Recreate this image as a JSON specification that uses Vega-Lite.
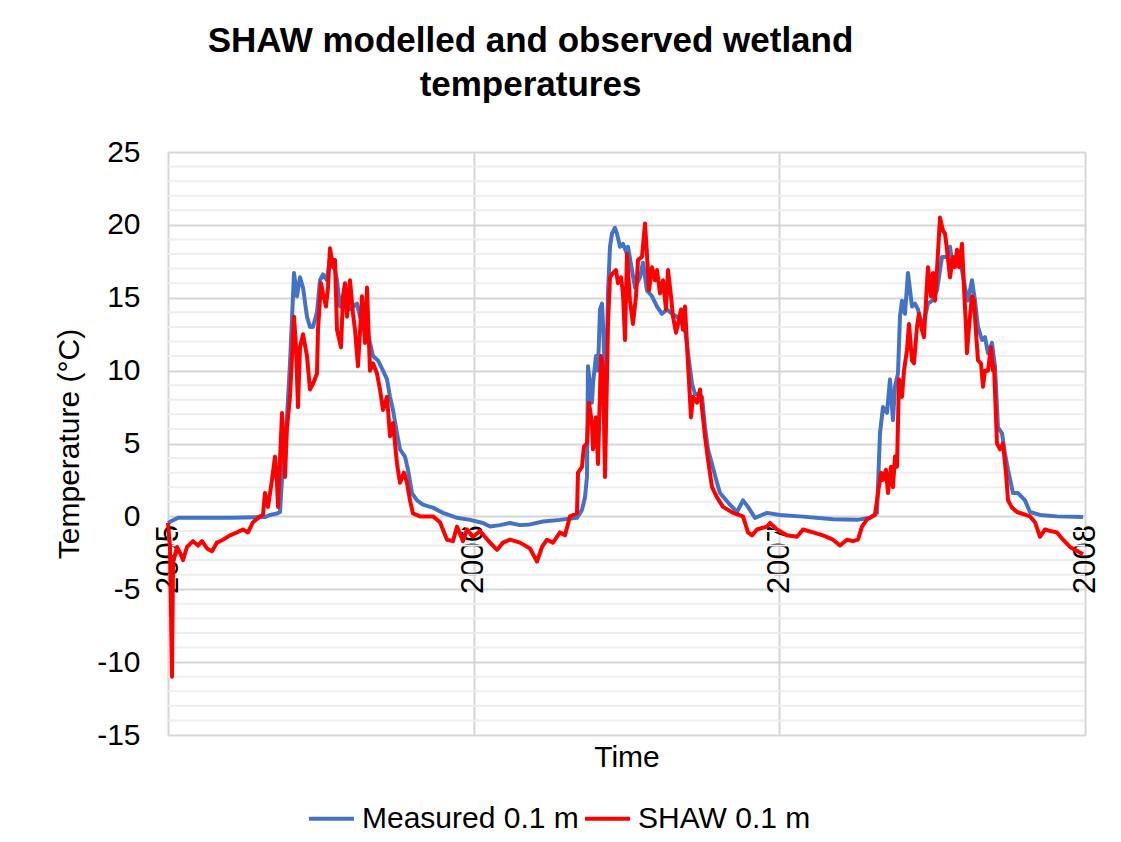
{
  "$schema": "https://vega.github.io/schema/vega-lite/v6.json",
  "width": 917,
  "height": 583,
  "autosize": {"type": "none"},
  "padding": {"left": 168, "top": 152, "right": 36, "bottom": 107},
  "background": "white",
  "config": {
    "font": "Liberation Sans",
    "view": {"stroke": null},
    "axis": {"labelFont": "Liberation Sans", "titleFont": "Liberation Sans", "labelColor": "#000000", "titleColor": "#000000", "titleFontWeight": "normal"}
  },
  "title": {
    "text": ["SHAW  modelled and observed wetland", "temperatures"],
    "font": "Liberation Sans",
    "fontSize": 35,
    "fontWeight": "bold",
    "color": "#000000",
    "anchor": "middle",
    "frame": "group",
    "dx": -96,
    "lineHeight": 44,
    "offset": 34
  },
  "encoding": {
    "y": {
      "field": "v",
      "type": "quantitative",
      "scale": {"domain": [-15, 25], "nice": false, "zero": false},
      "axis": {
        "values": [-15, -10, -5, 0, 5, 10, 15, 20, 25],
        "labelExpr": "datum.value + ''",
        "title": "Temperature (°C)",
        "titleFontSize": 30,
        "labelFontSize": 30,
        "domain": false,
        "ticks": false,
        "labelPadding": 28,
        "titlePadding": 12,
        "grid": true,
        "gridColor": "#d6d6d6",
        "gridWidth": 2
      }
    }
  },
  "layer": [
    {
      "data": {"values": [
        {"v": -14}, {"v": -13}, {"v": -12}, {"v": -11},
        {"v": -9}, {"v": -8}, {"v": -7}, {"v": -6},
        {"v": -4}, {"v": -3}, {"v": -2}, {"v": -1},
        {"v": 1}, {"v": 2}, {"v": 3}, {"v": 4},
        {"v": 6}, {"v": 7}, {"v": 8}, {"v": 9},
        {"v": 11}, {"v": 12}, {"v": 13}, {"v": 14},
        {"v": 16}, {"v": 17}, {"v": 18}, {"v": 19},
        {"v": 21}, {"v": 22}, {"v": 23}, {"v": 24}
      ]},
      "mark": {"type": "rule", "color": "#eeeeee", "strokeWidth": 2},
      "encoding": {}
    },
    {
      "data": {"values": [
        {"s": "Measured 0.1 m", "t": 2005.0000, "v": -0.45},
        {"s": "Measured 0.1 m", "t": 2005.0131, "v": -0.3},
        {"s": "Measured 0.1 m", "t": 2005.0327, "v": -0.1},
        {"s": "Measured 0.1 m", "t": 2005.1047, "v": -0.1},
        {"s": "Measured 0.1 m", "t": 2005.2028, "v": -0.1},
        {"s": "Measured 0.1 m", "t": 2005.3173, "v": -0.05},
        {"s": "Measured 0.1 m", "t": 2005.3337, "v": 0.1},
        {"s": "Measured 0.1 m", "t": 2005.3566, "v": 0.2},
        {"s": "Measured 0.1 m", "t": 2005.3664, "v": 0.3},
        {"s": "Measured 0.1 m", "t": 2005.3762, "v": 3.6},
        {"s": "Measured 0.1 m", "t": 2005.3893, "v": 6.8},
        {"s": "Measured 0.1 m", "t": 2005.3991, "v": 10.5},
        {"s": "Measured 0.1 m", "t": 2005.4089, "v": 15.1},
        {"s": "Measured 0.1 m", "t": 2005.4122, "v": 16.7},
        {"s": "Measured 0.1 m", "t": 2005.4220, "v": 15.1},
        {"s": "Measured 0.1 m", "t": 2005.4318, "v": 16.4},
        {"s": "Measured 0.1 m", "t": 2005.4417, "v": 15.7},
        {"s": "Measured 0.1 m", "t": 2005.4547, "v": 13.7},
        {"s": "Measured 0.1 m", "t": 2005.4646, "v": 13.0},
        {"s": "Measured 0.1 m", "t": 2005.4744, "v": 13.0},
        {"s": "Measured 0.1 m", "t": 2005.4875, "v": 14.0},
        {"s": "Measured 0.1 m", "t": 2005.4973, "v": 16.2},
        {"s": "Measured 0.1 m", "t": 2005.5071, "v": 16.6},
        {"s": "Measured 0.1 m", "t": 2005.5202, "v": 16.2},
        {"s": "Measured 0.1 m", "t": 2005.5300, "v": 17.8},
        {"s": "Measured 0.1 m", "t": 2005.5398, "v": 17.6},
        {"s": "Measured 0.1 m", "t": 2005.5529, "v": 16.2},
        {"s": "Measured 0.1 m", "t": 2005.5627, "v": 14.4},
        {"s": "Measured 0.1 m", "t": 2005.5856, "v": 14.4},
        {"s": "Measured 0.1 m", "t": 2005.5954, "v": 14.2},
        {"s": "Measured 0.1 m", "t": 2005.6183, "v": 14.6},
        {"s": "Measured 0.1 m", "t": 2005.6281, "v": 13.7},
        {"s": "Measured 0.1 m", "t": 2005.6510, "v": 12.8},
        {"s": "Measured 0.1 m", "t": 2005.6608, "v": 11.9},
        {"s": "Measured 0.1 m", "t": 2005.6707, "v": 11.0},
        {"s": "Measured 0.1 m", "t": 2005.6870, "v": 10.7},
        {"s": "Measured 0.1 m", "t": 2005.7034, "v": 10.0},
        {"s": "Measured 0.1 m", "t": 2005.7165, "v": 9.4},
        {"s": "Measured 0.1 m", "t": 2005.7263, "v": 8.2},
        {"s": "Measured 0.1 m", "t": 2005.7361, "v": 7.3},
        {"s": "Measured 0.1 m", "t": 2005.7492, "v": 5.7},
        {"s": "Measured 0.1 m", "t": 2005.7590, "v": 4.6},
        {"s": "Measured 0.1 m", "t": 2005.7753, "v": 4.1},
        {"s": "Measured 0.1 m", "t": 2005.7851, "v": 3.2},
        {"s": "Measured 0.1 m", "t": 2005.7982, "v": 1.6},
        {"s": "Measured 0.1 m", "t": 2005.8146, "v": 1.1},
        {"s": "Measured 0.1 m", "t": 2005.8342, "v": 0.8},
        {"s": "Measured 0.1 m", "t": 2005.8571, "v": 0.65},
        {"s": "Measured 0.1 m", "t": 2005.8670, "v": 0.6},
        {"s": "Measured 0.1 m", "t": 2005.8997, "v": 0.24},
        {"s": "Measured 0.1 m", "t": 2005.9455, "v": -0.1},
        {"s": "Measured 0.1 m", "t": 2005.9880, "v": -0.24},
        {"s": "Measured 0.1 m", "t": 2006.0305, "v": -0.45},
        {"s": "Measured 0.1 m", "t": 2006.0534, "v": -0.7},
        {"s": "Measured 0.1 m", "t": 2006.0861, "v": -0.6},
        {"s": "Measured 0.1 m", "t": 2006.1189, "v": -0.45},
        {"s": "Measured 0.1 m", "t": 2006.1516, "v": -0.6},
        {"s": "Measured 0.1 m", "t": 2006.1843, "v": -0.55},
        {"s": "Measured 0.1 m", "t": 2006.2268, "v": -0.35},
        {"s": "Measured 0.1 m", "t": 2006.2824, "v": -0.24},
        {"s": "Measured 0.1 m", "t": 2006.3380, "v": -0.1},
        {"s": "Measured 0.1 m", "t": 2006.3544, "v": 0.45},
        {"s": "Measured 0.1 m", "t": 2006.3642, "v": 1.3},
        {"s": "Measured 0.1 m", "t": 2006.3707, "v": 2.7},
        {"s": "Measured 0.1 m", "t": 2006.3740, "v": 10.3},
        {"s": "Measured 0.1 m", "t": 2006.3805, "v": 9.1},
        {"s": "Measured 0.1 m", "t": 2006.3871, "v": 7.8},
        {"s": "Measured 0.1 m", "t": 2006.3904, "v": 9.1},
        {"s": "Measured 0.1 m", "t": 2006.4002, "v": 11.0},
        {"s": "Measured 0.1 m", "t": 2006.4067, "v": 10.0},
        {"s": "Measured 0.1 m", "t": 2006.4133, "v": 14.2},
        {"s": "Measured 0.1 m", "t": 2006.4198, "v": 14.6},
        {"s": "Measured 0.1 m", "t": 2006.4231, "v": 13.2},
        {"s": "Measured 0.1 m", "t": 2006.4296, "v": 9.6},
        {"s": "Measured 0.1 m", "t": 2006.4362, "v": 11.9},
        {"s": "Measured 0.1 m", "t": 2006.4395, "v": 15.3},
        {"s": "Measured 0.1 m", "t": 2006.4460, "v": 18.5},
        {"s": "Measured 0.1 m", "t": 2006.4525, "v": 19.4},
        {"s": "Measured 0.1 m", "t": 2006.4624, "v": 19.8},
        {"s": "Measured 0.1 m", "t": 2006.4689, "v": 19.4},
        {"s": "Measured 0.1 m", "t": 2006.4787, "v": 18.5},
        {"s": "Measured 0.1 m", "t": 2006.4885, "v": 18.7},
        {"s": "Measured 0.1 m", "t": 2006.5016, "v": 18.0},
        {"s": "Measured 0.1 m", "t": 2006.5049, "v": 18.5},
        {"s": "Measured 0.1 m", "t": 2006.5180, "v": 16.9},
        {"s": "Measured 0.1 m", "t": 2006.5278, "v": 15.7},
        {"s": "Measured 0.1 m", "t": 2006.5441, "v": 16.4},
        {"s": "Measured 0.1 m", "t": 2006.5540, "v": 17.4},
        {"s": "Measured 0.1 m", "t": 2006.5670, "v": 15.5},
        {"s": "Measured 0.1 m", "t": 2006.5834, "v": 15.1},
        {"s": "Measured 0.1 m", "t": 2006.5997, "v": 14.4},
        {"s": "Measured 0.1 m", "t": 2006.6161, "v": 13.9},
        {"s": "Measured 0.1 m", "t": 2006.6325, "v": 14.2},
        {"s": "Measured 0.1 m", "t": 2006.6488, "v": 13.9},
        {"s": "Measured 0.1 m", "t": 2006.6652, "v": 13.7},
        {"s": "Measured 0.1 m", "t": 2006.6750, "v": 13.5},
        {"s": "Measured 0.1 m", "t": 2006.6914, "v": 12.8},
        {"s": "Measured 0.1 m", "t": 2006.7012, "v": 11.2},
        {"s": "Measured 0.1 m", "t": 2006.7143, "v": 9.1},
        {"s": "Measured 0.1 m", "t": 2006.7241, "v": 8.4},
        {"s": "Measured 0.1 m", "t": 2006.7339, "v": 8.4},
        {"s": "Measured 0.1 m", "t": 2006.7470, "v": 8.2},
        {"s": "Measured 0.1 m", "t": 2006.7568, "v": 6.1},
        {"s": "Measured 0.1 m", "t": 2006.7666, "v": 4.6},
        {"s": "Measured 0.1 m", "t": 2006.7797, "v": 3.6},
        {"s": "Measured 0.1 m", "t": 2006.7961, "v": 2.3},
        {"s": "Measured 0.1 m", "t": 2006.8059, "v": 1.6},
        {"s": "Measured 0.1 m", "t": 2006.8386, "v": 0.8},
        {"s": "Measured 0.1 m", "t": 2006.8615, "v": 0.3},
        {"s": "Measured 0.1 m", "t": 2006.8811, "v": 1.1},
        {"s": "Measured 0.1 m", "t": 2006.8975, "v": 0.65},
        {"s": "Measured 0.1 m", "t": 2006.9204, "v": -0.1},
        {"s": "Measured 0.1 m", "t": 2006.9596, "v": 0.24},
        {"s": "Measured 0.1 m", "t": 2007.0021, "v": 0.1},
        {"s": "Measured 0.1 m", "t": 2007.0676, "v": 0.0},
        {"s": "Measured 0.1 m", "t": 2007.1755, "v": -0.2},
        {"s": "Measured 0.1 m", "t": 2007.2541, "v": -0.24},
        {"s": "Measured 0.1 m", "t": 2007.2966, "v": -0.1},
        {"s": "Measured 0.1 m", "t": 2007.3195, "v": 0.24},
        {"s": "Measured 0.1 m", "t": 2007.3293, "v": 5.7},
        {"s": "Measured 0.1 m", "t": 2007.3391, "v": 7.5},
        {"s": "Measured 0.1 m", "t": 2007.3522, "v": 7.1},
        {"s": "Measured 0.1 m", "t": 2007.3620, "v": 9.4},
        {"s": "Measured 0.1 m", "t": 2007.3718, "v": 6.6},
        {"s": "Measured 0.1 m", "t": 2007.3784, "v": 8.9},
        {"s": "Measured 0.1 m", "t": 2007.3882, "v": 9.8},
        {"s": "Measured 0.1 m", "t": 2007.3947, "v": 13.7},
        {"s": "Measured 0.1 m", "t": 2007.4013, "v": 14.8},
        {"s": "Measured 0.1 m", "t": 2007.4111, "v": 13.9},
        {"s": "Measured 0.1 m", "t": 2007.4209, "v": 16.7},
        {"s": "Measured 0.1 m", "t": 2007.4340, "v": 14.4},
        {"s": "Measured 0.1 m", "t": 2007.4438, "v": 14.6},
        {"s": "Measured 0.1 m", "t": 2007.4536, "v": 14.2},
        {"s": "Measured 0.1 m", "t": 2007.4667, "v": 13.0},
        {"s": "Measured 0.1 m", "t": 2007.4765, "v": 13.7},
        {"s": "Measured 0.1 m", "t": 2007.4863, "v": 14.6},
        {"s": "Measured 0.1 m", "t": 2007.4994, "v": 14.8},
        {"s": "Measured 0.1 m", "t": 2007.5158, "v": 15.5},
        {"s": "Measured 0.1 m", "t": 2007.5321, "v": 17.8},
        {"s": "Measured 0.1 m", "t": 2007.5485, "v": 17.8},
        {"s": "Measured 0.1 m", "t": 2007.5583, "v": 18.5},
        {"s": "Measured 0.1 m", "t": 2007.5681, "v": 17.1},
        {"s": "Measured 0.1 m", "t": 2007.5845, "v": 17.8},
        {"s": "Measured 0.1 m", "t": 2007.5976, "v": 16.9},
        {"s": "Measured 0.1 m", "t": 2007.6074, "v": 15.7},
        {"s": "Measured 0.1 m", "t": 2007.6172, "v": 14.8},
        {"s": "Measured 0.1 m", "t": 2007.6303, "v": 16.2},
        {"s": "Measured 0.1 m", "t": 2007.6401, "v": 14.8},
        {"s": "Measured 0.1 m", "t": 2007.6499, "v": 13.0},
        {"s": "Measured 0.1 m", "t": 2007.6630, "v": 12.1},
        {"s": "Measured 0.1 m", "t": 2007.6728, "v": 12.3},
        {"s": "Measured 0.1 m", "t": 2007.6826, "v": 11.2},
        {"s": "Measured 0.1 m", "t": 2007.6957, "v": 11.9},
        {"s": "Measured 0.1 m", "t": 2007.7055, "v": 10.3},
        {"s": "Measured 0.1 m", "t": 2007.7153, "v": 6.1},
        {"s": "Measured 0.1 m", "t": 2007.7284, "v": 5.7},
        {"s": "Measured 0.1 m", "t": 2007.7383, "v": 4.3},
        {"s": "Measured 0.1 m", "t": 2007.7481, "v": 3.2},
        {"s": "Measured 0.1 m", "t": 2007.7644, "v": 1.6},
        {"s": "Measured 0.1 m", "t": 2007.7808, "v": 1.6},
        {"s": "Measured 0.1 m", "t": 2007.8037, "v": 1.1},
        {"s": "Measured 0.1 m", "t": 2007.8200, "v": 0.3},
        {"s": "Measured 0.1 m", "t": 2007.8527, "v": 0.1},
        {"s": "Measured 0.1 m", "t": 2007.9083, "v": 0.0},
        {"s": "Measured 0.1 m", "t": 2007.9934, "v": -0.05},
        {"s": "SHAW 0.1 m", "t": 2005.0000, "v": -0.45},
        {"s": "SHAW 0.1 m", "t": 2005.0065, "v": -2.1},
        {"s": "SHAW 0.1 m", "t": 2005.0131, "v": -11.0},
        {"s": "SHAW 0.1 m", "t": 2005.0164, "v": -3.2},
        {"s": "SHAW 0.1 m", "t": 2005.0294, "v": -2.1},
        {"s": "SHAW 0.1 m", "t": 2005.0393, "v": -2.5},
        {"s": "SHAW 0.1 m", "t": 2005.0491, "v": -3.0},
        {"s": "SHAW 0.1 m", "t": 2005.0622, "v": -2.1},
        {"s": "SHAW 0.1 m", "t": 2005.0818, "v": -1.7},
        {"s": "SHAW 0.1 m", "t": 2005.0981, "v": -2.0},
        {"s": "SHAW 0.1 m", "t": 2005.1112, "v": -1.7},
        {"s": "SHAW 0.1 m", "t": 2005.1276, "v": -2.2},
        {"s": "SHAW 0.1 m", "t": 2005.1439, "v": -2.4},
        {"s": "SHAW 0.1 m", "t": 2005.1603, "v": -1.8},
        {"s": "SHAW 0.1 m", "t": 2005.1799, "v": -1.6},
        {"s": "SHAW 0.1 m", "t": 2005.2028, "v": -1.3},
        {"s": "SHAW 0.1 m", "t": 2005.2257, "v": -1.1},
        {"s": "SHAW 0.1 m", "t": 2005.2454, "v": -0.9},
        {"s": "SHAW 0.1 m", "t": 2005.2617, "v": -1.1},
        {"s": "SHAW 0.1 m", "t": 2005.2781, "v": -0.4},
        {"s": "SHAW 0.1 m", "t": 2005.3010, "v": 0.0},
        {"s": "SHAW 0.1 m", "t": 2005.3108, "v": 0.1},
        {"s": "SHAW 0.1 m", "t": 2005.3173, "v": 1.6},
        {"s": "SHAW 0.1 m", "t": 2005.3272, "v": 0.65},
        {"s": "SHAW 0.1 m", "t": 2005.3402, "v": 2.5},
        {"s": "SHAW 0.1 m", "t": 2005.3500, "v": 4.1},
        {"s": "SHAW 0.1 m", "t": 2005.3566, "v": 2.3},
        {"s": "SHAW 0.1 m", "t": 2005.3599, "v": 0.65},
        {"s": "SHAW 0.1 m", "t": 2005.3730, "v": 7.1},
        {"s": "SHAW 0.1 m", "t": 2005.3762, "v": 5.9},
        {"s": "SHAW 0.1 m", "t": 2005.3828, "v": 2.7},
        {"s": "SHAW 0.1 m", "t": 2005.3893, "v": 6.1},
        {"s": "SHAW 0.1 m", "t": 2005.3991, "v": 8.2},
        {"s": "SHAW 0.1 m", "t": 2005.4057, "v": 11.0},
        {"s": "SHAW 0.1 m", "t": 2005.4122, "v": 13.7},
        {"s": "SHAW 0.1 m", "t": 2005.4188, "v": 11.6},
        {"s": "SHAW 0.1 m", "t": 2005.4253, "v": 7.5},
        {"s": "SHAW 0.1 m", "t": 2005.4318, "v": 11.6},
        {"s": "SHAW 0.1 m", "t": 2005.4417, "v": 12.5},
        {"s": "SHAW 0.1 m", "t": 2005.4547, "v": 11.0},
        {"s": "SHAW 0.1 m", "t": 2005.4646, "v": 8.7},
        {"s": "SHAW 0.1 m", "t": 2005.4744, "v": 9.1},
        {"s": "SHAW 0.1 m", "t": 2005.4875, "v": 9.8},
        {"s": "SHAW 0.1 m", "t": 2005.4907, "v": 12.8},
        {"s": "SHAW 0.1 m", "t": 2005.5005, "v": 16.0},
        {"s": "SHAW 0.1 m", "t": 2005.5071, "v": 15.3},
        {"s": "SHAW 0.1 m", "t": 2005.5169, "v": 14.4},
        {"s": "SHAW 0.1 m", "t": 2005.5234, "v": 15.7},
        {"s": "SHAW 0.1 m", "t": 2005.5300, "v": 18.4},
        {"s": "SHAW 0.1 m", "t": 2005.5398, "v": 17.1},
        {"s": "SHAW 0.1 m", "t": 2005.5463, "v": 17.6},
        {"s": "SHAW 0.1 m", "t": 2005.5529, "v": 12.8},
        {"s": "SHAW 0.1 m", "t": 2005.5660, "v": 11.6},
        {"s": "SHAW 0.1 m", "t": 2005.5725, "v": 15.1},
        {"s": "SHAW 0.1 m", "t": 2005.5791, "v": 16.0},
        {"s": "SHAW 0.1 m", "t": 2005.5856, "v": 13.7},
        {"s": "SHAW 0.1 m", "t": 2005.5954, "v": 16.2},
        {"s": "SHAW 0.1 m", "t": 2005.6052, "v": 13.9},
        {"s": "SHAW 0.1 m", "t": 2005.6118, "v": 12.8},
        {"s": "SHAW 0.1 m", "t": 2005.6216, "v": 10.3},
        {"s": "SHAW 0.1 m", "t": 2005.6347, "v": 15.1},
        {"s": "SHAW 0.1 m", "t": 2005.6445, "v": 11.9},
        {"s": "SHAW 0.1 m", "t": 2005.6510, "v": 15.7},
        {"s": "SHAW 0.1 m", "t": 2005.6608, "v": 10.0},
        {"s": "SHAW 0.1 m", "t": 2005.6707, "v": 10.5},
        {"s": "SHAW 0.1 m", "t": 2005.6837, "v": 9.8},
        {"s": "SHAW 0.1 m", "t": 2005.6936, "v": 8.7},
        {"s": "SHAW 0.1 m", "t": 2005.7034, "v": 7.3},
        {"s": "SHAW 0.1 m", "t": 2005.7165, "v": 8.2},
        {"s": "SHAW 0.1 m", "t": 2005.7263, "v": 5.5},
        {"s": "SHAW 0.1 m", "t": 2005.7361, "v": 6.4},
        {"s": "SHAW 0.1 m", "t": 2005.7492, "v": 3.6},
        {"s": "SHAW 0.1 m", "t": 2005.7590, "v": 2.3},
        {"s": "SHAW 0.1 m", "t": 2005.7721, "v": 3.0},
        {"s": "SHAW 0.1 m", "t": 2005.7819, "v": 2.3},
        {"s": "SHAW 0.1 m", "t": 2005.7917, "v": 1.1},
        {"s": "SHAW 0.1 m", "t": 2005.8015, "v": 0.2},
        {"s": "SHAW 0.1 m", "t": 2005.8244, "v": 0.0},
        {"s": "SHAW 0.1 m", "t": 2005.8670, "v": 0.0},
        {"s": "SHAW 0.1 m", "t": 2005.8898, "v": -0.4},
        {"s": "SHAW 0.1 m", "t": 2005.9127, "v": -1.6},
        {"s": "SHAW 0.1 m", "t": 2005.9324, "v": -1.7},
        {"s": "SHAW 0.1 m", "t": 2005.9455, "v": -0.7},
        {"s": "SHAW 0.1 m", "t": 2005.9651, "v": -1.7},
        {"s": "SHAW 0.1 m", "t": 2005.9782, "v": -0.9},
        {"s": "SHAW 0.1 m", "t": 2005.9978, "v": -1.4},
        {"s": "SHAW 0.1 m", "t": 2006.0207, "v": -1.0},
        {"s": "SHAW 0.1 m", "t": 2006.0534, "v": -1.8},
        {"s": "SHAW 0.1 m", "t": 2006.0763, "v": -2.3},
        {"s": "SHAW 0.1 m", "t": 2006.0959, "v": -1.8},
        {"s": "SHAW 0.1 m", "t": 2006.1189, "v": -1.6},
        {"s": "SHAW 0.1 m", "t": 2006.1516, "v": -1.8},
        {"s": "SHAW 0.1 m", "t": 2006.1843, "v": -2.2},
        {"s": "SHAW 0.1 m", "t": 2006.2072, "v": -3.1},
        {"s": "SHAW 0.1 m", "t": 2006.2235, "v": -2.1},
        {"s": "SHAW 0.1 m", "t": 2006.2399, "v": -1.6},
        {"s": "SHAW 0.1 m", "t": 2006.2595, "v": -1.8},
        {"s": "SHAW 0.1 m", "t": 2006.2824, "v": -1.1},
        {"s": "SHAW 0.1 m", "t": 2006.2988, "v": -1.3},
        {"s": "SHAW 0.1 m", "t": 2006.3151, "v": 0.0},
        {"s": "SHAW 0.1 m", "t": 2006.3380, "v": 0.2},
        {"s": "SHAW 0.1 m", "t": 2006.3413, "v": 3.0},
        {"s": "SHAW 0.1 m", "t": 2006.3544, "v": 3.4},
        {"s": "SHAW 0.1 m", "t": 2006.3609, "v": 4.8},
        {"s": "SHAW 0.1 m", "t": 2006.3707, "v": 5.0},
        {"s": "SHAW 0.1 m", "t": 2006.3773, "v": 7.8},
        {"s": "SHAW 0.1 m", "t": 2006.3871, "v": 6.4},
        {"s": "SHAW 0.1 m", "t": 2006.3904, "v": 4.6},
        {"s": "SHAW 0.1 m", "t": 2006.4002, "v": 6.8},
        {"s": "SHAW 0.1 m", "t": 2006.4067, "v": 3.6},
        {"s": "SHAW 0.1 m", "t": 2006.4166, "v": 11.0},
        {"s": "SHAW 0.1 m", "t": 2006.4231, "v": 10.3},
        {"s": "SHAW 0.1 m", "t": 2006.4296, "v": 2.7},
        {"s": "SHAW 0.1 m", "t": 2006.4362, "v": 9.6},
        {"s": "SHAW 0.1 m", "t": 2006.4395, "v": 13.2},
        {"s": "SHAW 0.1 m", "t": 2006.4460, "v": 16.4},
        {"s": "SHAW 0.1 m", "t": 2006.4558, "v": 16.7},
        {"s": "SHAW 0.1 m", "t": 2006.4656, "v": 16.9},
        {"s": "SHAW 0.1 m", "t": 2006.4722, "v": 16.0},
        {"s": "SHAW 0.1 m", "t": 2006.4820, "v": 16.4},
        {"s": "SHAW 0.1 m", "t": 2006.4885, "v": 15.3},
        {"s": "SHAW 0.1 m", "t": 2006.4951, "v": 12.1},
        {"s": "SHAW 0.1 m", "t": 2006.5016, "v": 18.0},
        {"s": "SHAW 0.1 m", "t": 2006.5114, "v": 14.8},
        {"s": "SHAW 0.1 m", "t": 2006.5212, "v": 13.2},
        {"s": "SHAW 0.1 m", "t": 2006.5310, "v": 15.1},
        {"s": "SHAW 0.1 m", "t": 2006.5376, "v": 17.6},
        {"s": "SHAW 0.1 m", "t": 2006.5507, "v": 17.8},
        {"s": "SHAW 0.1 m", "t": 2006.5605, "v": 20.1},
        {"s": "SHAW 0.1 m", "t": 2006.5670, "v": 18.0},
        {"s": "SHAW 0.1 m", "t": 2006.5736, "v": 15.5},
        {"s": "SHAW 0.1 m", "t": 2006.5834, "v": 17.1},
        {"s": "SHAW 0.1 m", "t": 2006.5932, "v": 16.2},
        {"s": "SHAW 0.1 m", "t": 2006.5997, "v": 16.9},
        {"s": "SHAW 0.1 m", "t": 2006.6096, "v": 15.3},
        {"s": "SHAW 0.1 m", "t": 2006.6194, "v": 16.2},
        {"s": "SHAW 0.1 m", "t": 2006.6292, "v": 14.2},
        {"s": "SHAW 0.1 m", "t": 2006.6358, "v": 16.9},
        {"s": "SHAW 0.1 m", "t": 2006.6456, "v": 15.1},
        {"s": "SHAW 0.1 m", "t": 2006.6521, "v": 13.7},
        {"s": "SHAW 0.1 m", "t": 2006.6619, "v": 12.6},
        {"s": "SHAW 0.1 m", "t": 2006.6685, "v": 13.2},
        {"s": "SHAW 0.1 m", "t": 2006.6783, "v": 14.2},
        {"s": "SHAW 0.1 m", "t": 2006.6848, "v": 12.8},
        {"s": "SHAW 0.1 m", "t": 2006.6914, "v": 14.4},
        {"s": "SHAW 0.1 m", "t": 2006.7012, "v": 10.5},
        {"s": "SHAW 0.1 m", "t": 2006.7110, "v": 6.8},
        {"s": "SHAW 0.1 m", "t": 2006.7175, "v": 8.2},
        {"s": "SHAW 0.1 m", "t": 2006.7306, "v": 7.8},
        {"s": "SHAW 0.1 m", "t": 2006.7404, "v": 8.7},
        {"s": "SHAW 0.1 m", "t": 2006.7503, "v": 6.8},
        {"s": "SHAW 0.1 m", "t": 2006.7568, "v": 5.5},
        {"s": "SHAW 0.1 m", "t": 2006.7666, "v": 3.9},
        {"s": "SHAW 0.1 m", "t": 2006.7797, "v": 2.0},
        {"s": "SHAW 0.1 m", "t": 2006.7961, "v": 1.3},
        {"s": "SHAW 0.1 m", "t": 2006.8157, "v": 0.65},
        {"s": "SHAW 0.1 m", "t": 2006.8484, "v": 0.24},
        {"s": "SHAW 0.1 m", "t": 2006.8811, "v": 0.0},
        {"s": "SHAW 0.1 m", "t": 2006.8975, "v": -1.1},
        {"s": "SHAW 0.1 m", "t": 2006.9105, "v": -1.3},
        {"s": "SHAW 0.1 m", "t": 2006.9269, "v": -0.9},
        {"s": "SHAW 0.1 m", "t": 2006.9596, "v": -0.7},
        {"s": "SHAW 0.1 m", "t": 2006.9694, "v": -0.45},
        {"s": "SHAW 0.1 m", "t": 2006.9923, "v": -0.9},
        {"s": "SHAW 0.1 m", "t": 2007.0250, "v": -1.3},
        {"s": "SHAW 0.1 m", "t": 2007.0578, "v": -1.4},
        {"s": "SHAW 0.1 m", "t": 2007.0774, "v": -0.9},
        {"s": "SHAW 0.1 m", "t": 2007.1101, "v": -1.1},
        {"s": "SHAW 0.1 m", "t": 2007.1428, "v": -1.3},
        {"s": "SHAW 0.1 m", "t": 2007.1755, "v": -1.6},
        {"s": "SHAW 0.1 m", "t": 2007.1984, "v": -2.0},
        {"s": "SHAW 0.1 m", "t": 2007.2213, "v": -1.6},
        {"s": "SHAW 0.1 m", "t": 2007.2410, "v": -1.7},
        {"s": "SHAW 0.1 m", "t": 2007.2573, "v": -1.6},
        {"s": "SHAW 0.1 m", "t": 2007.2704, "v": -0.7},
        {"s": "SHAW 0.1 m", "t": 2007.2868, "v": -0.2},
        {"s": "SHAW 0.1 m", "t": 2007.3130, "v": 0.1},
        {"s": "SHAW 0.1 m", "t": 2007.3228, "v": 1.6},
        {"s": "SHAW 0.1 m", "t": 2007.3326, "v": 3.0},
        {"s": "SHAW 0.1 m", "t": 2007.3391, "v": 2.5},
        {"s": "SHAW 0.1 m", "t": 2007.3489, "v": 3.2},
        {"s": "SHAW 0.1 m", "t": 2007.3555, "v": 1.6},
        {"s": "SHAW 0.1 m", "t": 2007.3653, "v": 3.4},
        {"s": "SHAW 0.1 m", "t": 2007.3718, "v": 2.0},
        {"s": "SHAW 0.1 m", "t": 2007.3784, "v": 4.1},
        {"s": "SHAW 0.1 m", "t": 2007.3849, "v": 3.4},
        {"s": "SHAW 0.1 m", "t": 2007.3915, "v": 9.4},
        {"s": "SHAW 0.1 m", "t": 2007.4013, "v": 8.2},
        {"s": "SHAW 0.1 m", "t": 2007.4078, "v": 10.0},
        {"s": "SHAW 0.1 m", "t": 2007.4176, "v": 11.4},
        {"s": "SHAW 0.1 m", "t": 2007.4242, "v": 13.2},
        {"s": "SHAW 0.1 m", "t": 2007.4340, "v": 10.7},
        {"s": "SHAW 0.1 m", "t": 2007.4405, "v": 10.5},
        {"s": "SHAW 0.1 m", "t": 2007.4503, "v": 13.0},
        {"s": "SHAW 0.1 m", "t": 2007.4569, "v": 13.9},
        {"s": "SHAW 0.1 m", "t": 2007.4667, "v": 12.8},
        {"s": "SHAW 0.1 m", "t": 2007.4732, "v": 12.3},
        {"s": "SHAW 0.1 m", "t": 2007.4798, "v": 14.8},
        {"s": "SHAW 0.1 m", "t": 2007.4863, "v": 17.1},
        {"s": "SHAW 0.1 m", "t": 2007.4961, "v": 15.1},
        {"s": "SHAW 0.1 m", "t": 2007.5027, "v": 16.7},
        {"s": "SHAW 0.1 m", "t": 2007.5092, "v": 14.8},
        {"s": "SHAW 0.1 m", "t": 2007.5158, "v": 16.9},
        {"s": "SHAW 0.1 m", "t": 2007.5256, "v": 20.5},
        {"s": "SHAW 0.1 m", "t": 2007.5354, "v": 19.6},
        {"s": "SHAW 0.1 m", "t": 2007.5420, "v": 19.4},
        {"s": "SHAW 0.1 m", "t": 2007.5485, "v": 18.3},
        {"s": "SHAW 0.1 m", "t": 2007.5583, "v": 16.4},
        {"s": "SHAW 0.1 m", "t": 2007.5681, "v": 17.8},
        {"s": "SHAW 0.1 m", "t": 2007.5747, "v": 17.1},
        {"s": "SHAW 0.1 m", "t": 2007.5812, "v": 18.3},
        {"s": "SHAW 0.1 m", "t": 2007.5878, "v": 17.1},
        {"s": "SHAW 0.1 m", "t": 2007.5976, "v": 18.7},
        {"s": "SHAW 0.1 m", "t": 2007.6041, "v": 15.7},
        {"s": "SHAW 0.1 m", "t": 2007.6107, "v": 13.0},
        {"s": "SHAW 0.1 m", "t": 2007.6139, "v": 11.2},
        {"s": "SHAW 0.1 m", "t": 2007.6205, "v": 13.0},
        {"s": "SHAW 0.1 m", "t": 2007.6303, "v": 15.1},
        {"s": "SHAW 0.1 m", "t": 2007.6368, "v": 14.8},
        {"s": "SHAW 0.1 m", "t": 2007.6434, "v": 12.6},
        {"s": "SHAW 0.1 m", "t": 2007.6499, "v": 10.7},
        {"s": "SHAW 0.1 m", "t": 2007.6597, "v": 10.5},
        {"s": "SHAW 0.1 m", "t": 2007.6663, "v": 8.9},
        {"s": "SHAW 0.1 m", "t": 2007.6728, "v": 10.0},
        {"s": "SHAW 0.1 m", "t": 2007.6826, "v": 10.0},
        {"s": "SHAW 0.1 m", "t": 2007.6924, "v": 11.6},
        {"s": "SHAW 0.1 m", "t": 2007.6990, "v": 10.0},
        {"s": "SHAW 0.1 m", "t": 2007.7023, "v": 10.3},
        {"s": "SHAW 0.1 m", "t": 2007.7121, "v": 5.0},
        {"s": "SHAW 0.1 m", "t": 2007.7219, "v": 4.6},
        {"s": "SHAW 0.1 m", "t": 2007.7317, "v": 5.0},
        {"s": "SHAW 0.1 m", "t": 2007.7415, "v": 3.0},
        {"s": "SHAW 0.1 m", "t": 2007.7481, "v": 1.1},
        {"s": "SHAW 0.1 m", "t": 2007.7611, "v": 0.6},
        {"s": "SHAW 0.1 m", "t": 2007.7775, "v": 0.3},
        {"s": "SHAW 0.1 m", "t": 2007.8200, "v": 0.0},
        {"s": "SHAW 0.1 m", "t": 2007.8364, "v": -0.4},
        {"s": "SHAW 0.1 m", "t": 2007.8527, "v": -1.4},
        {"s": "SHAW 0.1 m", "t": 2007.8691, "v": -0.9},
        {"s": "SHAW 0.1 m", "t": 2007.8854, "v": -1.0},
        {"s": "SHAW 0.1 m", "t": 2007.9083, "v": -1.1},
        {"s": "SHAW 0.1 m", "t": 2007.9280, "v": -1.6},
        {"s": "SHAW 0.1 m", "t": 2007.9509, "v": -2.1},
        {"s": "SHAW 0.1 m", "t": 2007.9934, "v": -2.6}
      ]},
      "mark": {"type": "line", "strokeWidth": 4, "strokeJoin": "round"},
      "encoding": {
        "x": {
          "field": "t",
          "type": "quantitative",
          "scale": {"domain": [2005, 2008], "nice": false, "zero": false},
          "axis": {
            "values": [2005, 2006, 2007, 2008],
            "format": "d",
            "labelAngle": -90,
            "labelFontSize": 31,
            "labelFlush": false,
            "labelOverlap": false,
            "labelBound": false,
            "labelPadding": 8,
            "offset": -218.5,
            "domain": false,
            "ticks": false,
            "grid": true,
            "gridColor": "#d6d6d6",
            "gridWidth": 2,
            "title": "Time",
            "titleFontSize": 30,
            "titleY": 226
          }
        },
        "color": {
          "field": "s",
          "type": "nominal",
          "scale": {"domain": ["Measured 0.1 m", "SHAW 0.1 m"], "range": ["#4472C4", "#FF0000"]},
          "legend": {
            "orient": "none",
            "legendX": 139,
            "legendY": 642,
            "direction": "horizontal",
            "title": null,
            "symbolType": "stroke",
            "symbolSize": 2025,
            "symbolStrokeWidth": 4,
            "labelFontSize": 30,
            "labelLimit": 0,
            "labelFont": "Liberation Sans",
            "labelColor": "#000000",
            "labelOffset": 6,
            "columnPadding": -2
          }
        }
      }
    }
  ]
}
